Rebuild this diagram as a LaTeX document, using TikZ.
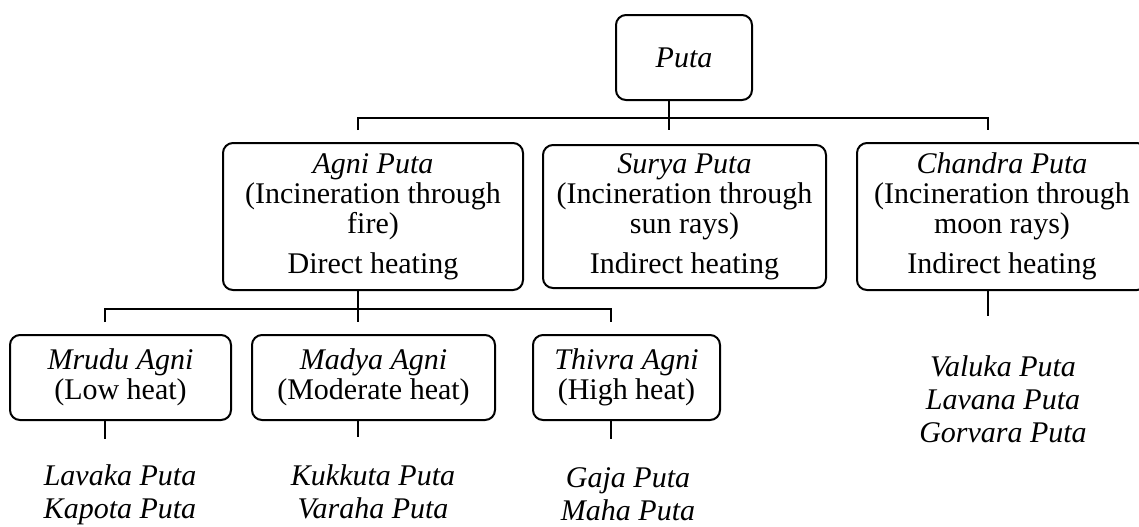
\documentclass[tikz,border=0pt]{standalone}
\usepackage{fontspec}
\setmainfont{Liberation Serif}
\begin{document}
\begin{tikzpicture}[
        x=0.5pt, y=-0.5pt, % 1 пиксель = 0.5pt, ось y вниз
        cell/.style={draw, line width=1pt, rounded corners=5pt, align=center, inner sep=0pt, font=\fontsize{15}{15}\selectfont}, % Стиль блоков
        leaf/.style={align=center, inner sep=0pt, font=\fontsize{15}{16.5}\selectfont\itshape}, % Списки внизу
        wire/.style={draw, line width=1.2pt}, % Соединения
    ]
    \useasboundingbox (0,0) rectangle (1139,526);

    % Верхний уровень
    \node[cell, minimum width=68pt, minimum height=42.5pt] (puta) at (684,57.5) {\textit{Puta}};

    % Второй уровень
    \node[cell, minimum width=150pt, minimum height=73.5pt] (agni) at (373,216.5) {\textit{Agni Puta}\\(Incineration through\\fire)\\[5pt]Direct heating};
    \node[cell, minimum width=141.5pt, minimum height=71.5pt] (surya) at (684.5,216.5) {\textit{Surya Puta}\\(Incineration through\\sun rays)\\[5pt]Indirect heating};
    \node[cell, minimum width=145pt, minimum height=73.5pt] (chandra) at (1002,216.5) {\textit{Chandra Puta}\\(Incineration through\\moon rays)\\[5pt]Indirect heating};

    % Третий уровень
    \node[cell, minimum width=110.5pt, minimum height=42.5pt] (mrudu) at (120.5,377.5) {\textit{Mrudu Agni}\\(Low heat)};
    \node[cell, minimum width=121.5pt, minimum height=42.5pt] (madya) at (373.5,377.5) {\textit{Madya Agni}\\(Moderate heat)};
    \node[cell, minimum width=93.5pt, minimum height=42.5pt] (thivra) at (626.5,377.5) {\textit{Thivra Agni}\\(High heat)};

    % Виды пута
    \node[leaf] (lavaka) at (120,495) {Lavaka Puta\\Kapota Puta};
    \node[leaf] (kukkuta) at (373,492) {Kukkuta Puta\\Varaha Puta};
    \node[leaf] (gaja) at (628,494) {Gaja Puta\\Maha Puta};
    \node[leaf] (valuka) at (1003,399) {Valuka Puta\\Lavana Puta\\Gorvara Puta};

    % Концы соединений
    \coordinate (tickA) at (358,130);
    \coordinate (tickP) at (669,130);
    \coordinate (tickC) at (988,130);
    \coordinate (tickM) at (105,322);
    \coordinate (tickD) at (358,322);
    \coordinate (tickT) at (611,322);

    \draw[wire] (puta.south -| tickP) -- (tickP);
    \draw[wire] (tickA) -- ++(0,-12) -| (tickC);
    \draw[wire] (agni.south -| tickD) -- (tickD);
    \draw[wire] (tickM) -- ++(0,-13) -| (tickT);
    \draw[wire] (mrudu.south -| tickM) -- ++(0,18);
    \draw[wire] (madya.south -| tickD) -- ++(0,16);
    \draw[wire] (thivra.south -| tickT) -- ++(0,18);
    \draw[wire] (chandra.south -| tickC) -- ++(0,25);
\end{tikzpicture}
\end{document}
